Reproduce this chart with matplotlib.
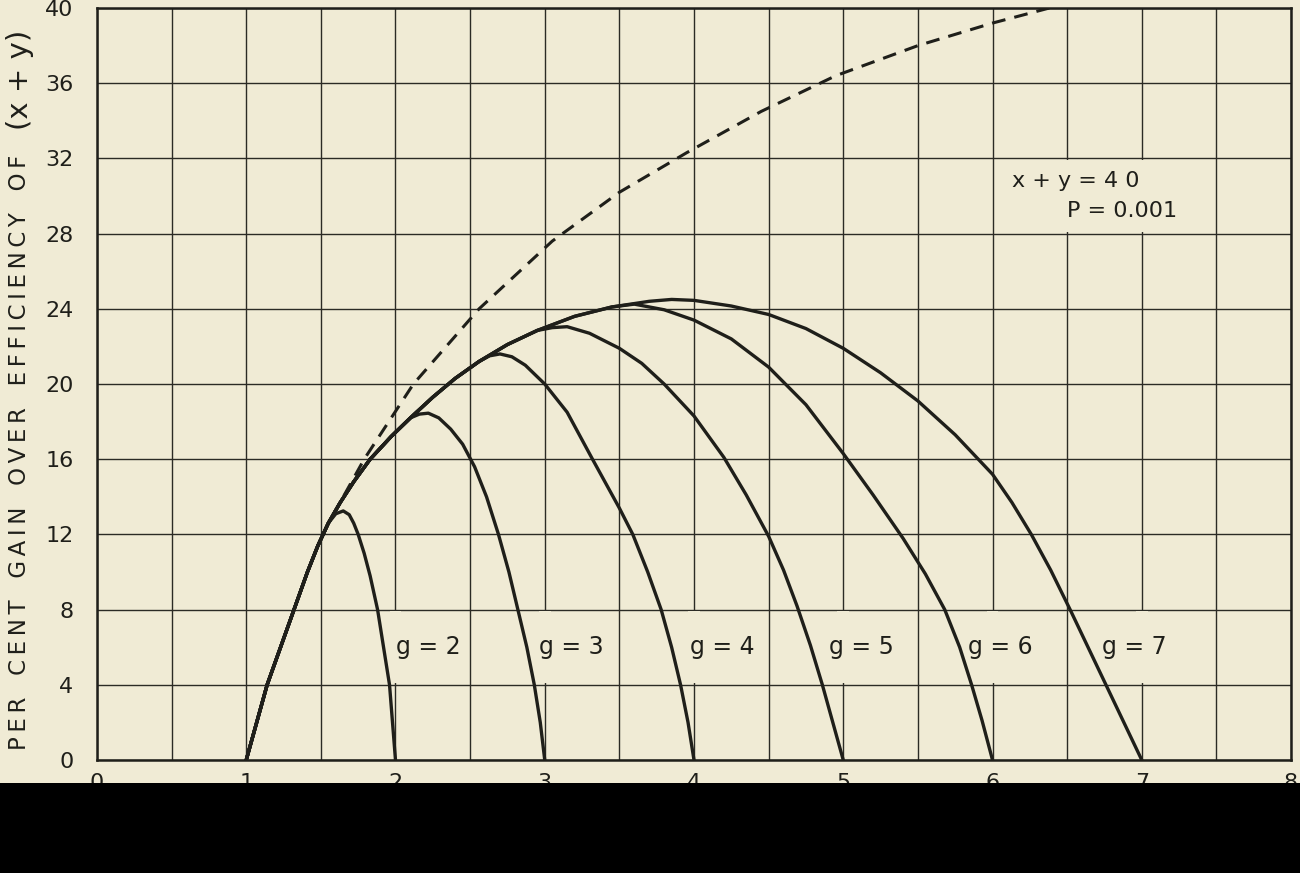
import matplotlib
matplotlib.use("Agg")
import matplotlib.pyplot as plt
from matplotlib.patches import Rectangle

# common rising branch shared by all curves
rise_x = [1.00, 1.07, 1.14, 1.23, 1.32, 1.41, 1.48, 1.55, 1.63, 1.72, 1.83,
          1.97, 2.10, 2.25, 2.40, 2.56, 2.75, 2.95, 3.20, 3.45, 3.70]
rise_y = [0.0, 2.0, 4.0, 6.0, 8.0, 10.0, 11.4, 12.6, 13.7, 14.8, 16.0,
          17.2, 18.2, 19.3, 20.3, 21.2, 22.1, 22.85, 23.6, 24.1, 24.4]

# number of rising points each curve follows before it branches off
n_shared = {2: 8, 3: 13, 4: 16, 5: 18, 6: 20, 7: 21}

fall_x = {
    2: [1.60, 1.65, 1.69, 1.72, 1.75, 1.79, 1.83, 1.88, 1.92, 1.96, 1.98, 2.00],
    3: [2.16, 2.22, 2.29, 2.37, 2.45, 2.53, 2.61, 2.69, 2.76, 2.82, 2.88, 2.93,
        2.97, 3.00],
    4: [2.63, 2.70, 2.78, 2.87, 3.00, 3.15, 3.32, 3.50, 3.59, 3.69, 3.78, 3.85,
        3.91, 3.96, 4.00],
    5: [3.05, 3.15, 3.30, 3.50, 3.65, 3.80, 4.00, 4.20, 4.35, 4.50, 4.60, 4.69,
        4.78, 4.86, 4.93, 5.00],
    6: [3.60, 3.80, 4.00, 4.25, 4.50, 4.75, 5.00, 5.20, 5.40, 5.55, 5.68, 5.78,
        5.86, 5.93, 6.00],
    7: [3.85, 4.00, 4.25, 4.50, 4.75, 5.00, 5.25, 5.50, 5.75, 6.00, 6.13, 6.26,
        6.39, 6.52, 6.64, 6.76, 6.88, 7.00],
}
fall_y = {
    2: [13.1, 13.25, 13.05, 12.6, 12.0, 11.0, 9.8, 8.0, 6.0, 4.0, 2.0, 0.0],
    3: [18.4, 18.45, 18.2, 17.6, 16.8, 15.6, 14.0, 12.0, 10.0, 8.0, 6.0, 4.0,
        2.0, 0.0],
    4: [21.5, 21.6, 21.45, 21.0, 20.0, 18.5, 16.0, 13.4, 12.0, 10.0, 8.0, 6.0,
        4.0, 2.0, 0.0],
    5: [23.0, 23.05, 22.7, 21.9, 21.1, 20.0, 18.3, 16.1, 14.1, 11.9, 10.1, 8.2,
        6.1, 4.0, 2.0, 0.0],
    6: [24.25, 23.95, 23.4, 22.4, 20.9, 18.9, 16.3, 14.1, 11.8, 9.9, 8.0, 6.0,
        4.0, 2.1, 0.0],
    7: [24.5, 24.45, 24.15, 23.7, 22.95, 21.9, 20.6, 19.1, 17.3, 15.2, 13.7, 12.0,
        10.1, 8.0, 6.0, 4.0, 2.0, 0.0],
}

# dashed upper bound
env_x = [1.58, 1.79, 2.12, 2.56, 3.05, 3.50, 3.95, 4.45, 4.95, 5.50, 6.00, 6.38]
env_y = [13.0, 16.0, 20.0, 24.0, 27.6, 30.2, 32.3, 34.5, 36.4, 38.0, 39.2, 40.0]

g_values = [2, 3, 4, 5, 6, 7]
label_x = [2.22, 3.18, 4.19, 5.12, 6.05, 6.95]
label_y = 6.0

x_ticks = list(range(0, 9))
y_ticks = list(range(0, 41, 4))

bg = "#f0ebd5"
ink = "#1f1f1a"

fig = plt.figure(figsize=(13, 8.73), dpi=100)
fig.patch.set_facecolor(bg)
ax = fig.add_axes([0.0746, 0.1294, 0.9185, 0.8614])
ax.set_facecolor(bg)

ax.set_xlim(0, 8)
ax.set_ylim(0, 40)
ax.set_xticks(x_ticks)
ax.set_xticks([v + 0.5 for v in x_ticks[:-1]], minor=True)
ax.set_yticks(y_ticks)
ax.tick_params(which="both", length=0, colors=ink, labelsize=16)
ax.tick_params(axis="y", pad=17)
ax.tick_params(axis="x", pad=9)
ax.set_axisbelow(True)
ax.grid(which="both", color="#2b2b25", linewidth=1.0)
for sp in ax.spines.values():
    sp.set_linewidth(1.8)
    sp.set_color(ink)

# grid is left out behind the labels
for gx in [2, 3, 4, 5, 6, 7]:
    ax.add_patch(Rectangle((gx - 0.04, 4.08), 0.08, 3.84, fc=bg, ec="none", zorder=1))
for gx in [6.5, 7.0]:
    ax.add_patch(Rectangle((gx - 0.04, 28.08), 0.08, 3.84, fc=bg, ec="none", zorder=1))

for g in g_values:
    k = n_shared[g]
    xs = rise_x[:k] + fall_x[g]
    ys = rise_y[:k] + fall_y[g]
    ax.plot(xs, ys, color=ink, linewidth=2.4, solid_joinstyle="round",
            solid_capstyle="round", zorder=3)

ax.plot(env_x, env_y, color=ink, linewidth=2.2, dashes=(4.5, 3), zorder=3)

for g, lx in zip(g_values, label_x):
    ax.text(lx, label_y, f"g = {g}", fontsize=17, color=ink, ha="center",
            va="center", zorder=2)

ax.text(6.13, 30.8, "x + y = 4 0", fontsize=16, color=ink, ha="left", va="center")
ax.text(6.50, 29.2, "P = 0.001", fontsize=16, color=ink, ha="left", va="center")

thin = "\u2009"
words = ["PER", "CENT", "GAIN", "OVER", "EFFICIENCY", "OF"]
ylab = "   ".join(thin.join(w) for w in words)
fig.text(20 / 1300, 123 / 873, ylab, rotation=90, fontsize=16.5, color=ink,
         ha="center", va="bottom")
fig.text(20 / 1300, 743 / 873, "(x + y)", rotation=90, fontsize=21, color=ink,
         ha="center", va="bottom")

# dark strip along the bottom edge of the scan
fig.patches.append(Rectangle((0, 0), 1, 90 / 873, transform=fig.transFigure,
                             fc="black", ec="none", zorder=10))

fig.savefig("out.png", dpi=100, facecolor=bg)
